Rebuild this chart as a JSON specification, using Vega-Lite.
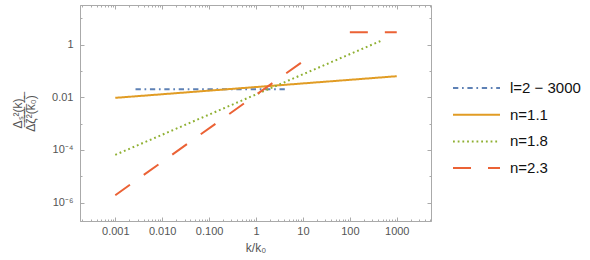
{
  "$schema": "https://vega.github.io/schema/vega-lite/v6.json",
  "autosize": {"type": "none"},
  "width": 351,
  "height": 216,
  "padding": {"left": 80, "top": 5, "right": 159, "bottom": 39},
  "background": "white",
  "config": {
    "font": "Liberation Sans",
    "view": {"stroke": "#aaaaaa", "strokeWidth": 1},
    "axis": {"grid": false, "domainColor": "#aaaaaa", "tickColor": "#aaaaaa", "labelColor": "#555555", "titleColor": "#555555", "labelFontSize": 11, "titleFontSize": 11, "titleFontWeight": "normal", "labelOverlap": false, "labelFlush": false}
  },
  "data": {
    "values": [
      {"series": "l=2 − 3000", "seg": "a", "k": 0.0027, "y": 0.02},
      {"series": "l=2 − 3000", "seg": "a", "k": 4.5, "y": 0.02},
      {"series": "n=1.1", "seg": "a", "k": 0.001, "y": 0.0095},
      {"series": "n=1.1", "seg": "a", "k": 1000, "y": 0.063},
      {"series": "n=1.8", "seg": "a", "k": 0.001, "y": 0.000065},
      {"series": "n=1.8", "seg": "a", "k": 451, "y": 1.37},
      {"series": "n=2.3", "seg": "a", "k": 0.001, "y": 0.0000019},
      {"series": "n=2.3", "seg": "a", "k": 10, "y": 0.23},
      {"series": "n=2.3", "seg": "b", "k": 100, "y": 2.93},
      {"series": "n=2.3", "seg": "b", "k": 1000, "y": 2.93}
    ]
  },
  "resolve": {"axis": {"x": "independent", "y": "independent"}},
  "layer": [
    {
      "mark": {"type": "line", "strokeWidth": 2, "clip": true, "strokeCap": "butt"},
      "encoding": {
        "x": {
          "field": "k", "type": "quantitative",
          "scale": {"type": "log", "domain": [0.000177, 5370], "nice": false},
          "axis": {
            "title": "k/k₀", "titlePadding": 4, "titleFontSize": 12,
            "values": [0.0002,0.0003,0.0004,0.0005,0.0006,0.0007,0.0008,0.0009,0.001,0.002,0.003,0.004,0.005,0.006,0.007,0.008,0.009,0.01,0.02,0.03,0.04,0.05,0.06,0.07,0.08,0.09,0.1,0.2,0.3,0.4,0.5,0.6,0.7,0.8,0.9,1,2,3,4,5,6,7,8,9,10,20,30,40,50,60,70,80,90,100,200,300,400,500,600,700,800,900,1000,2000,3000,4000,5000],
            "tickSize": {"condition": {"test": "abs(log(datum.value)/LN10 - round(log(datum.value)/LN10)) < 0.001", "value": -4}, "value": -2},
            "labelPadding": 8,
            "labelExpr": "abs(log(datum.value)/LN10 - round(log(datum.value)/LN10)) > 0.001 ? '' : datum.value < 0.002 ? '0.001' : datum.value < 0.02 ? '0.010' : datum.value < 0.2 ? '0.100' : format(datum.value, 'd')"
          }
        },
        "y": {
          "field": "y", "type": "quantitative",
          "scale": {"type": "log", "domain": [0.0000002, 31.9], "nice": false},
          "axis": {
            "title": ["Δₛ²(k)", "Δ̅ζ̅²̅(̅k̅₀̅)̅"], "titlePadding": 14, "titleFontSize": 12, "titleLineHeight": 13,
            "values": [0.000001, 0.00001, 0.0001, 0.001, 0.01, 0.1, 1, 10],
            "tickSize": {"condition": {"test": "abs(round(log(datum.value)/LN10)) % 2 == 0", "value": -4}, "value": -2},
            "labelPadding": 11,
            "labelExpr": "datum.value < 0.000002 ? '10⁻⁶' : datum.value < 0.00002 ? '' : datum.value < 0.0002 ? '10⁻⁴' : datum.value < 0.002 ? '' : datum.value < 0.02 ? '0.01' : datum.value < 0.2 ? '' : datum.value < 2 ? '1' : ''"
          }
        },
        "color": {
          "field": "series", "type": "nominal",
          "scale": {"domain": ["l=2 − 3000", "n=1.1", "n=1.8", "n=2.3"], "range": ["#5E81B5", "#E19C24", "#8FB032", "#EB6235"]},
          "legend": {"title": null, "orient": "none", "legendX": 372, "legendY": 75, "symbolType": "stroke", "symbolSize": 2209, "symbolStrokeWidth": 2, "labelFontSize": 15, "labelColor": "#111111", "rowPadding": 10.7, "clipHeight": 16, "padding": 0, "labelOffset": 9}
        },
        "strokeDash": {
          "field": "series", "type": "nominal",
          "scale": {"domain": ["l=2 − 3000", "n=1.1", "n=1.8", "n=2.3"], "range": [[5.3, 3.7, 1.7, 3.7], [1, 0], [1.8, 2.9], [18, 17]]},
          "legend": {"title": null, "orient": "none", "legendX": 372, "legendY": 75, "symbolType": "stroke", "symbolSize": 2209, "symbolStrokeWidth": 2, "labelFontSize": 15, "labelColor": "#111111", "rowPadding": 10.7, "clipHeight": 16, "padding": 0, "labelOffset": 9}
        },
        "detail": {"field": "seg"}
      }
    },
    {
      "mark": {"type": "point", "opacity": 0},
      "encoding": {
        "x": {
          "field": "k", "type": "quantitative",
          "axis": {
            "orient": "top", "title": null, "labels": false, "domain": false,
            "values": [0.0002,0.0003,0.0004,0.0005,0.0006,0.0007,0.0008,0.0009,0.001,0.002,0.003,0.004,0.005,0.006,0.007,0.008,0.009,0.01,0.02,0.03,0.04,0.05,0.06,0.07,0.08,0.09,0.1,0.2,0.3,0.4,0.5,0.6,0.7,0.8,0.9,1,2,3,4,5,6,7,8,9,10,20,30,40,50,60,70,80,90,100,200,300,400,500,600,700,800,900,1000,2000,3000,4000,5000],
            "tickSize": {"condition": {"test": "abs(log(datum.value)/LN10 - round(log(datum.value)/LN10)) < 0.001", "value": -4}, "value": -2}
          }
        },
        "y": {
          "field": "y", "type": "quantitative",
          "axis": {
            "orient": "right", "title": null, "labels": false, "domain": false,
            "values": [0.000001, 0.00001, 0.0001, 0.001, 0.01, 0.1, 1, 10],
            "tickSize": {"condition": {"test": "abs(round(log(datum.value)/LN10)) % 2 == 0", "value": -4}, "value": -2}
          }
        }
      }
    }
  ]
}
